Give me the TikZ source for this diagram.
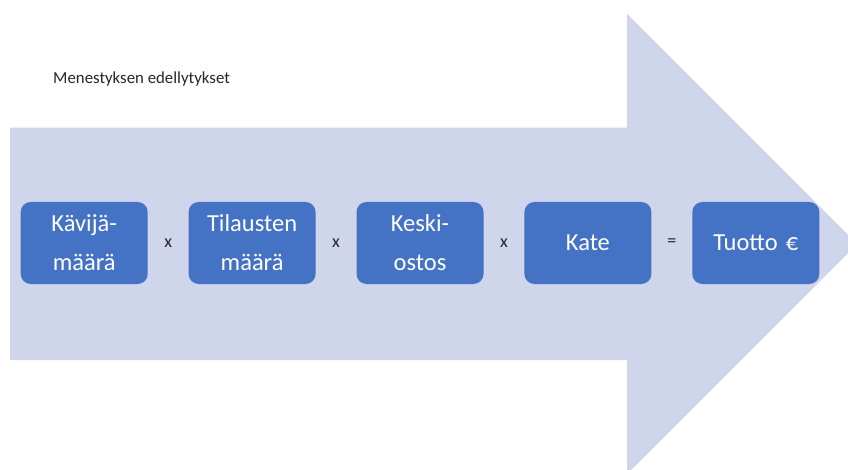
\documentclass[tikz,border=0pt]{standalone}
\usepackage{fontspec}
\setmainfont{Carlito}
\usepackage{tikz}
\usetikzlibrary{positioning}
\definecolor{arrowfill}{HTML}{CFD5EA}
\definecolor{boxblue}{HTML}{4472C4}
\definecolor{textgray}{HTML}{262626}

\begin{document}
\begin{tikzpicture}[x=1pt, y=-1pt, node distance=40.5pt,
    box/.style={rectangle, fill=boxblue, rounded corners=10pt, text=white, minimum width=127pt, minimum height=82pt, text width=117pt, inner sep=5pt, align=center, font=\fontsize{24.5}{39}\selectfont},
    op/.style={text=textgray, inner sep=0pt, font=\fontsize{18}{20}\selectfont}]
  \useasboundingbox (0,0) rectangle (848,470);
  \clip (0,0) rectangle (848,470);
  \fill[arrowfill] (10,127.7) -- (627,127.7) -- (627,14) -- (857,244) -- (627,474) -- (627,360) -- (10,360) -- cycle;

  \node[anchor=base west, text=textgray, inner sep=0pt, font=\fontsize{16.8}{19}\selectfont] (title) at (53,84) {Menestyksen edellytykset};

  \node[box] (visitors) at (84.2,243) {Kävijä-\\määrä};
  \node[box, right=of visitors] (orders) {Tilausten\\määrä};
  \node[box, right=of orders] (average) {Keski-\\ostos};
  \node[box, right=of average] (margin) {Kate};
  \node[box, right=of margin] (profit) {Tuotto €};

  \path (visitors) -- node[op] (times1) {x} (orders);
  \path (orders) -- node[op] (times2) {x} (average);
  \path (average) -- node[op] (times3) {x} (margin);
  \path (margin) -- node[op] (equals) {=} (profit);
\end{tikzpicture}
\end{document}
